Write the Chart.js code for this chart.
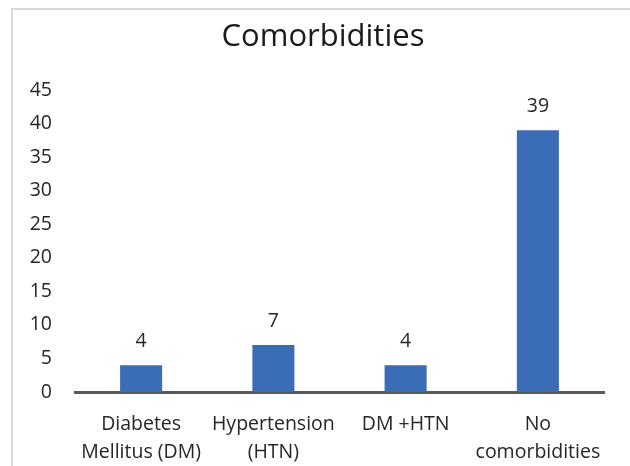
<!DOCTYPE html>
<html>
<head>
<meta charset="utf-8">
<script src="https://cdn.jsdelivr.net/npm/chart.js@4"></script>
<style>
  html, body { margin: 0; padding: 0; background: #fff; }
  #wrap { position: relative; width: 630px; height: 466px; overflow: hidden; }
  #frame { position: absolute; left: 11px; top: 8px; width: 700px; height: 500px;
           border-left: 2px solid #d9d9d9; border-top: 2px solid #d9d9d9; }
  canvas { position: absolute; left: 0; top: 0; }
</style>
</head>
<body>
<div id="wrap">
  <div id="frame"></div>
  <canvas id="chart" width="630" height="466"></canvas>
</div>
<script>
const categories = [
  ['Diabetes', 'Mellitus (DM)'],
  ['Hypertension', '(HTN)'],
  ['DM +HTN'],
  ['No', 'comorbidities']
]
const counts = [4, 7, 4, 39]
const yTicks = [0, 5, 10, 15, 20, 25, 30, 35, 40, 45]

const fontFamily = '"Open Sans", Lato, sans-serif'

// draws the value above each bar
const valueLabels = {
  id: 'valueLabels',
  afterDatasetsDraw(chart) {
    const ctx = chart.ctx
    const meta = chart.getDatasetMeta(0)
    ctx.save()
    ctx.font = '19.5px ' + fontFamily
    ctx.fillStyle = '#262626'
    ctx.textAlign = 'center'
    ctx.textBaseline = 'alphabetic'
    meta.data.forEach((bar, i) => {
      ctx.fillText(String(chart.data.datasets[0].data[i]), bar.x, bar.y - 18)
    })
    ctx.restore()
  }
}

// title sits a bit right of the layout centre in the original
const titleShift = {
  id: 'titleShift',
  afterLayout(chart) {
    chart.titleBlock.left += 12
    chart.titleBlock.right += 12
  }
}

const ctx = document.getElementById('chart').getContext('2d')
const chart = new Chart(ctx, {
  type: 'bar',
  data: {
    labels: categories,
    datasets: [{
      data: counts,
      backgroundColor: '#3b6cb6',
      borderWidth: 0,
      barPercentage: 0.318,
      categoryPercentage: 1
    }]
  },
  options: {
    responsive: false,
    animation: false,
    layout: { padding: { top: 19, left: 18, right: 26, bottom: 0 } },
    plugins: {
      legend: { display: false },
      tooltip: { enabled: false },
      title: {
        display: true,
        text: 'Comorbidities',
        color: '#1a1a1a',
        font: { family: fontFamily, size: 31, weight: 'normal', lineHeight: 1.16 },
        padding: { top: 0, bottom: 35 }
      }
    },
    scales: {
      x: {
        grid: { display: false, drawTicks: false },
        border: { display: true, color: '#595959', width: 3 },
        ticks: {
          color: '#262626',
          padding: 18,
          maxRotation: 0,
          autoSkip: false,
          font: { family: fontFamily, size: 19.5, lineHeight: 1.44 }
        },
        afterFit(scale) { scale.height = 74 }
      },
      y: {
        min: 0,
        max: 45,
        grid: { display: false, drawTicks: false },
        border: { display: false },
        afterBuildTicks(scale) { scale.ticks = yTicks.map(v => ({ value: v })) },
        ticks: {
          color: '#262626',
          padding: 23,
          font: { family: fontFamily, size: 19.5 }
        },
        afterFit(scale) { scale.width = 57 }
      }
    }
  },
  plugins: [valueLabels, titleShift]
})
</script>
</body>
</html>
